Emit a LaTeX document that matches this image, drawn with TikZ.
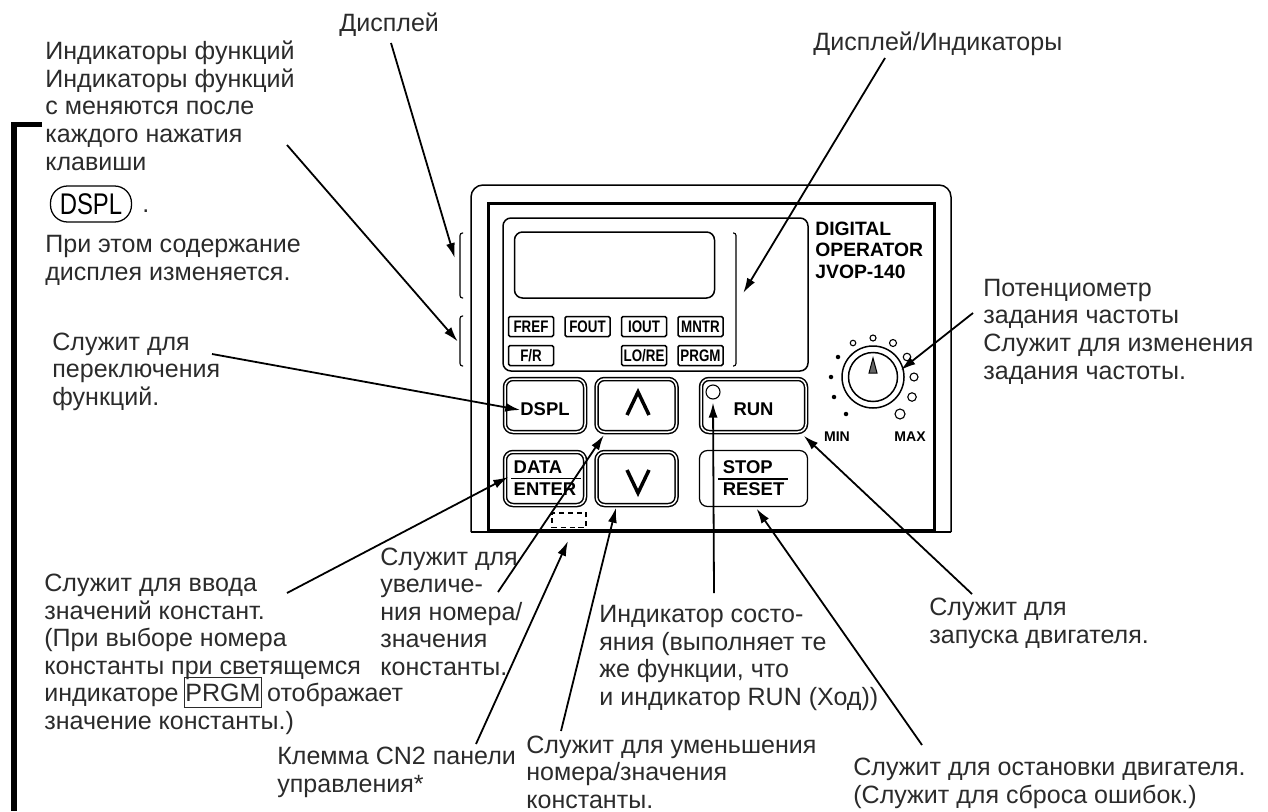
\documentclass[tikz,border=0pt]{standalone}
\usepackage{fontspec}
\setmainfont{Liberation Sans}
\newfontfamily\tagFont[FakeStretch=0.8]{Liberation Sans}
\usepackage{xcolor}
\usetikzlibrary{arrows.meta,calc}
\definecolor{noteInk}{HTML}{2B2B2B}
\newcommand{\prgmTag}{\smash{\fboxsep=0.2pt\fboxrule=0.65pt\hspace{-1pt}\fbox{\rule[-3pt]{0pt}{16pt}PRGM}\hspace{-1pt}}}
\tikzset{
  note/.style={
    anchor=base west,
    inner sep=0pt,
    align=left,
    text=noteInk,
    font=\fontsize{14.25}{15.65}\selectfont
  },
  keyBox/.style={
    draw=black,
    double=white,
    double distance=0.3mm,
    line width=0.3mm,
    rounded corners=1.6mm,
    inner sep=0pt,
    minimum width=16mm,
    minimum height=10.6mm,
    align=left,
    font=\fontsize{10.5}{12.5}\selectfont\bfseries
  },
  keyBoxWide/.style={
    keyBox,
    minimum width=21mm
  },
  stopBox/.style={
    draw=black,
    line width=0.25mm,
    rounded corners=1.6mm,
    inner sep=0pt,
    minimum width=21.6mm,
    minimum height=11.2mm,
    align=left,
    font=\fontsize{10.5}{12.5}\selectfont\bfseries
  },
  singleLine/.style={
    text height=11.3pt,
    text depth=0pt
  },
  indicatorTag/.style={
    draw=black,
    line width=0.3mm,
    rounded corners=0.3mm,
    inner sep=0pt,
    minimum width=9mm,
    minimum height=4mm,
    font=\tagFont\fontsize{9.5}{11}\selectfont\bfseries
  },
  panelText/.style={
    anchor=base west,
    inner sep=0pt,
    align=left,
    font=\fontsize{11}{12.2}\selectfont\bfseries
  },
  dialText/.style={
    anchor=base,
    inner sep=0pt,
    font=\fontsize{8}{9}\selectfont\bfseries
  },
  knobDot/.style={
    circle,
    fill=black,
    inner sep=0pt,
    minimum size=0.9mm
  },
  knobLamp/.style={
    circle,
    draw=black,
    line width=0.22mm,
    inner sep=0pt
  },
  caseLine/.style={
    draw=black,
    line width=0.3mm
  },
  frameLine/.style={
    draw=black,
    line width=0.6mm
  },
  bracketLine/.style={
    draw=black,
    line width=0.22mm,
    rounded corners=0.5mm
  },
  chevron/.style={
    draw=black,
    line width=0.7mm
  },
  callout/.style={
    -{Latex[length=3mm,width=1.8mm]},
    line width=0.36mm,
    draw=black
  }
}

\begin{document}
\begin{tikzpicture}[x=0.2mm,y=-0.2mm]
  \useasboundingbox (0,0) rectangle (1268,811);
  % left margin bar
  \draw[line width=1.15mm] (42,124.5) -- (14,124.5) -- (14,811);
  % housing
  \draw[caseLine,rounded corners=2.4mm] (471,532) -- (471,185) -- (951,185) -- (951,532);
  \draw[caseLine] (471,532) -- (951,532);
  \draw[frameLine] (488,530) -- (488,203) -- (934,203) -- (934,530) -- cycle;
  \draw[caseLine,rounded corners=1.6mm] (503,218) rectangle (808,371);
  \node[draw=black,line width=0.3mm,rounded corners=1.6mm,minimum width=40mm,minimum height=13.2mm] (lcd) at (614.5,265) {};
  % indicator tags
  \node[indicatorTag] (fref) at (531,326.5) {FREF};
  \node[indicatorTag] (fout) at (587.5,326.5) {FOUT};
  \node[indicatorTag] (iout) at (644,326.5) {IOUT};
  \node[indicatorTag] (mntr) at (700.5,326.5) {MNTR};
  \node[indicatorTag] (fr) at (531,355.5) {F/R};
  \node[indicatorTag] (lore) at (644,355.5) {LO/RE};
  \node[indicatorTag] (prgm) at (700.5,355.5) {PRGM};
  % brackets beside the display
  \draw[bracketLine] (463,233) -- (460,233) -- (460,298) -- (463,298);
  \draw[bracketLine] (463,316) -- (460,316) -- (460,366) -- (463,366);
  \draw[bracketLine] (733,233) -- (736,233) -- (736,366) -- (733,366);
  % keys
  \node[keyBox,singleLine] (dsplKey) at (545,405.5) {DSPL};
  \node[keyBox] (upKey) at (636.5,405.5) {};
  \node[keyBoxWide,singleLine] (runKey) at (753.5,405.5) {RUN};
  \node[keyBox] (dataKey) at (545,478.5) {DATA\\ENTER};
  \node[keyBox] (downKey) at (636.5,478.5) {};
  \node[stopBox] (stopKey) at (753.5,478.5) {STOP\\RESET};
  \draw[line width=0.25mm] ($(dataKey.center)+(-34,0)$) -- ($(dataKey.center)+(36,0)$);
  \draw[line width=0.25mm] ($(stopKey.center)+(-35.5,0.5)$) -- ($(stopKey.center)+(34.5,0.5)$);
  \draw[chevron] (627,415) -- (638,392) -- (649,415);
  \draw[chevron] (627,470) -- (638,493) -- (649,470);
  \node[knobLamp,minimum size=2.8mm] (runLamp) at (713,392) {};
  \node[draw=black,densely dashed,line width=0.3mm,minimum width=6.8mm,minimum height=2.9mm,inner sep=0pt] (cnSocket) at (569,520) {};
  % panel title
  \node[panelText] (title) at (815,278) {DIGITAL\\OPERATOR\\JVOP-140};
  % frequency knob
  \node[circle,draw=black,line width=0.3mm,inner sep=0pt,minimum size=12.4mm] (knobOuter) at (873,377) {};
  \node[circle,draw=black,line width=0.3mm,inner sep=0pt,minimum size=9.8mm] (knobInner) at (873,377) {};
  \draw[line width=0.2mm,fill=black!60] (873,358) -- (877,373) -- (869,373) -- cycle;
  \node[knobDot] (dotA) at (846,414) {};
  \node[knobDot] (dotB) at (834,397) {};
  \node[knobDot] (dotC) at (831,377) {};
  \node[knobDot] (dotD) at (838,357) {};
  \node[knobLamp,minimum size=1.1mm] (dotE) at (853,343) {};
  \node[knobLamp,minimum size=1.2mm] (dotF) at (873,338) {};
  \node[knobLamp,minimum size=1.4mm] (dotG) at (893,343) {};
  \node[knobLamp,minimum size=1.5mm] (dotH) at (907,357) {};
  \node[knobLamp,minimum size=1.6mm] (dotI) at (914,377) {};
  \node[knobLamp,minimum size=1.7mm] (dotJ) at (912,397) {};
  \node[knobLamp,minimum size=2mm] (dotK) at (900,414) {};
  \node[dialText] (minText) at (837,441) {MIN};
  \node[dialText] (maxText) at (910,441) {MAX};
  % notes
  \node[note] (displayNote) at (339,32) {Дисплей};
  \node[note] (readoutNote) at (813,51) {Дисплей/Индикаторы};
  \node[note] (functionNote) at (45,170) {Индикаторы функций\\Индикаторы функций\\с меняются после\\каждого нажатия\\клавиши};
  \node[draw=black,line width=0.25mm,rounded corners=3.4mm,inner sep=0pt,minimum width=16.2mm,minimum height=7.2mm,font=\tagFont\fontsize{17}{18}\selectfont] (dsplPill) at (91,204) {DSPL};
  \node[note] (pillDot) at (142,212) {.};
  \node[note] (contentNote) at (45,280) {При этом содержание\\дисплея изменяется.};
  \node[note] (switchNote) at (52,405) {Служит для\\переключения\\функций.};
  \node[note] (enterNote) at (44,729) {Служит для ввода\\значений констант.\\(При выборе номера\\константы при светящемся\\индикаторе \prgmTag{} отображает\\значение константы.)};
  \node[note] (increaseNote) at (380,675) {Служит для\\увеличе-\\ния номера/\\значения\\константы.};
  \node[note] (socketNote) at (277,792) {Клемма CN2 панели\\управления*};
  \node[note] (statusNote) at (599,705) {Индикатор состо-\\яния (выполняет те\\же функции, что\\и индикатор RUN (Ход))};
  \node[note] (decreaseNote) at (526,808) {Служит для уменьшения\\номера/значения\\константы.};
  \node[note] (stopNote) at (853,803) {Служит для остановки двигателя.\\(Служит для сброса ошибок.)};
  \node[note] (startNote) at (929,643) {Служит для\\запуска двигателя.};
  \node[note] (knobNote) at (983,379) {Потенциометр\\задания частоты\\Служит для изменения\\задания частоты.};
  % callouts
  \coordinate (displayTail) at (391,43);
  \coordinate (functionTail) at (287,145);
  \coordinate (readoutTail) at (885,58);
  \coordinate (switchTail) at (212,354);
  \coordinate (enterTail) at (287,593);
  \coordinate (increaseTail) at (498,592);
  \coordinate (socketTail) at (476,744);
  \coordinate (decreaseTail) at (561,731);
  \coordinate (statusTail) at (714,593);
  \coordinate (stopTail) at (922,745);
  \coordinate (startTail) at (972,594);
  \coordinate (knobTail) at (973,313);
  \draw[callout] (displayTail) -- ($(lcd.west)+(-59,-7)$);
  \draw[callout] (functionTail) -- ($(fref.west)+(-50,15)$);
  \draw[callout] (readoutTail) -- ($(lcd.east)+(28,28)$);
  \draw[callout] (switchTail) -- ($(dsplKey.west)+(16,4.5)$);
  \draw[callout] (enterTail) -- ($(dataKey.west)+(4,-1.5)$);
  \draw[callout] (increaseTail) -- ($(upKey.south west)+(8,2.5)$);
  \draw[callout] (socketTail) -- ($(cnSocket.south)+(-1,13)$);
  \draw[callout] (decreaseTail) -- ($(downKey.south)+(-20.5,2)$);
  \draw[callout] (statusTail) -- ($(runLamp.south)+(0,3)$);
  \draw[callout] (stopTail) -- ($(stopKey.south)+(3,1.5)$);
  \draw[callout] (startTail) -- ($(runKey.south east)+(-3,3)$);
  \draw[callout] (knobTail) -- ($(knobOuter.east)+(-4,-7)$);
\end{tikzpicture}
\end{document}
